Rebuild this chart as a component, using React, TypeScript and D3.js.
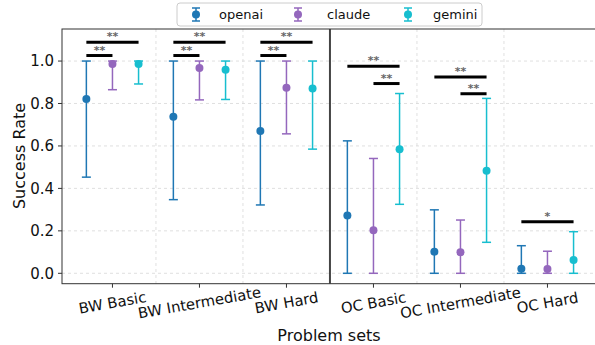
import React from "react";
import * as d3 from "d3";

const categories = ["BW Basic", "BW Intermediate", "BW Hard", "OC Basic", "OC Intermediate", "OC Hard"];
const seriesNames = ["openai", "claude", "gemini"];
const seriesColors = ["#1f77b4", "#9467bd", "#17becf"];

const openaiMean = [0.821, 0.737, 0.671, 0.272, 0.102, 0.022];
const openaiLow = [0.453, 0.347, 0.322, 0.0, 0.0, 0.0];
const openaiHigh = [1.0, 1.0, 1.0, 0.624, 0.299, 0.13];

const claudeMean = [0.986, 0.967, 0.874, 0.203, 0.099, 0.02];
const claudeLow = [0.865, 0.817, 0.657, 0.0, 0.0, 0.0];
const claudeHigh = [1.0, 1.0, 1.0, 0.541, 0.251, 0.104];

const geminiMean = [0.986, 0.959, 0.871, 0.585, 0.483, 0.063];
const geminiLow = [0.892, 0.819, 0.585, 0.325, 0.146, 0.0];
const geminiHigh = [1.0, 1.0, 1.0, 0.847, 0.824, 0.196];

const yTicks = [0, 0.2, 0.4, 0.6, 0.8, 1.0];

// significance brackets: category index, from series, to series, y value, label
const sigCat = [0, 0, 1, 1, 2, 2, 3, 3, 4, 4, 5];
const sigFrom = [0, 0, 0, 0, 0, 0, 0, 1, 0, 1, 0];
const sigTo = [1, 2, 1, 2, 1, 2, 2, 2, 2, 2, 2];
const sigY = [1.026, 1.088, 1.026, 1.088, 1.026, 1.088, 0.975, 0.894, 0.925, 0.846, 0.243];
const sigLabel = ["**", "**", "**", "**", "**", "**", "**", "**", "**", "**", "*"];

const means = [openaiMean, claudeMean, geminiMean];
const lows = [openaiLow, claudeLow, geminiLow];
const highs = [openaiHigh, claudeHigh, geminiHigh];
const offsets = [-0.3, 0, 0.3];

export default function App() {
  const W = 595, H = 345;
  const left = 62, top = 29, bottom = 283.7;
  const x = d3.scaleLinear().domain([-0.58, 5.58]).range([left, left + 6.16 * 87]);
  const y = d3.scaleLinear().domain([-0.049, 1.151]).range([bottom, top]);
  const right = x(5.58);
  const font = "DejaVu Sans, sans-serif";
  const axisColor = "#333";

  return (
    <svg width={W} height={H} style={{ position: "absolute", left: 0, top: 0, background: "#fff" }} fontFamily={font}>
      <rect x={0} y={0} width={W} height={H} fill="#fff" />
      {/* grid */}
      {yTicks.map((t) => (
        <line key={"gy" + t} x1={left} x2={right} y1={y(t)} y2={y(t)} stroke="#d8d8d8" strokeDasharray="3,3" strokeWidth={0.8} />
      ))}
      {[0.5, 1.5, 3.5, 4.5].map((b) => (
        <line key={"gx" + b} x1={x(b)} x2={x(b)} y1={top} y2={bottom} stroke="#d8d8d8" strokeDasharray="3,3" strokeWidth={0.8} />
      ))}
      <line x1={x(2.5)} x2={x(2.5)} y1={top} y2={bottom} stroke="#444" strokeWidth={2} />

      {/* error bars */}
      {seriesNames.map((s, si) =>
        categories.map((c, ci) => {
          const cx = x(ci + offsets[si]);
          const col = seriesColors[si];
          return (
            <g key={s + c}>
              <line x1={cx} x2={cx} y1={y(lows[si][ci])} y2={y(highs[si][ci])} stroke={col} strokeWidth={1.5} />
              <line x1={cx - 4.5} x2={cx + 4.5} y1={y(lows[si][ci])} y2={y(lows[si][ci])} stroke={col} strokeWidth={1.5} />
              <line x1={cx - 4.5} x2={cx + 4.5} y1={y(highs[si][ci])} y2={y(highs[si][ci])} stroke={col} strokeWidth={1.5} />
              <circle cx={cx} cy={y(means[si][ci])} r={4} fill={col} />
            </g>
          );
        })
      )}

      {/* significance */}
      {sigCat.map((c, i) => {
        const x1 = x(c + offsets[sigFrom[i]]);
        const x2 = x(c + offsets[sigTo[i]]);
        const yy = y(sigY[i]);
        return (
          <g key={"sig" + i}>
            <line x1={x1} x2={x2} y1={yy} y2={yy} stroke="#000" strokeWidth={3} />
            <text x={(x1 + x2) / 2} y={yy - 2} textAnchor="middle" fontSize={11} fill="#666" fontWeight="bold">
              {sigLabel[i]}
            </text>
          </g>
        );
      })}

      {/* spines */}
      <rect x={left} y={top} width={right - left} height={bottom - top} fill="none" stroke={axisColor} strokeWidth={1} />

      {/* y ticks */}
      {yTicks.map((t) => (
        <g key={"yt" + t}>
          <line x1={left - 4} x2={left} y1={y(t)} y2={y(t)} stroke={axisColor} />
          <text x={left - 8} y={y(t)} dy="0.35em" textAnchor="end" fontSize={15} fill="#111">
            {t.toFixed(1)}
          </text>
        </g>
      ))}
      {/* x ticks */}
      {categories.map((c, i) => (
        <g key={"xt" + c}>
          <line x1={x(i)} x2={x(i)} y1={bottom} y2={bottom + 4} stroke={axisColor} />
          <text
            transform={`translate(${x(i)},${bottom + 19}) rotate(-10)`}
            textAnchor="middle"
            dy="0.35em"
            fontSize={14.8}
            fill="#111"
          >
            {c}
          </text>
        </g>
      ))}

      {/* axis labels */}
      <text x={329} y={335} dy="0.35em" textAnchor="middle" fontSize={16} fill="#111">
        Problem sets
      </text>
      <text transform={`translate(19,156) rotate(-90)`} textAnchor="middle" dy="0.35em" fontSize={16} fill="#111">
        Success Rate
      </text>

      {/* legend */}
      <rect x={177} y={3} width={305} height={23} rx={3} fill="#fff" stroke="#ccc" strokeWidth={1} />
      {seriesNames.map((s, i) => {
        const mx = [196, 298, 408][i];
        const tx = [219, 327, 433][i];
        const col = seriesColors[i];
        return (
          <g key={"lg" + s}>
            <line x1={mx} x2={mx} y1={8} y2={21} stroke={col} strokeWidth={1.5} />
            <line x1={mx - 4} x2={mx + 4} y1={8} y2={8} stroke={col} strokeWidth={1.5} />
            <line x1={mx - 4} x2={mx + 4} y1={21} y2={21} stroke={col} strokeWidth={1.5} />
            <circle cx={mx} cy={14.5} r={4} fill={col} />
            <text x={tx} y={14.5} dy="0.35em" fontSize={13} fill="#111">
              {s}
            </text>
          </g>
        );
      })}
    </svg>
  );
}
